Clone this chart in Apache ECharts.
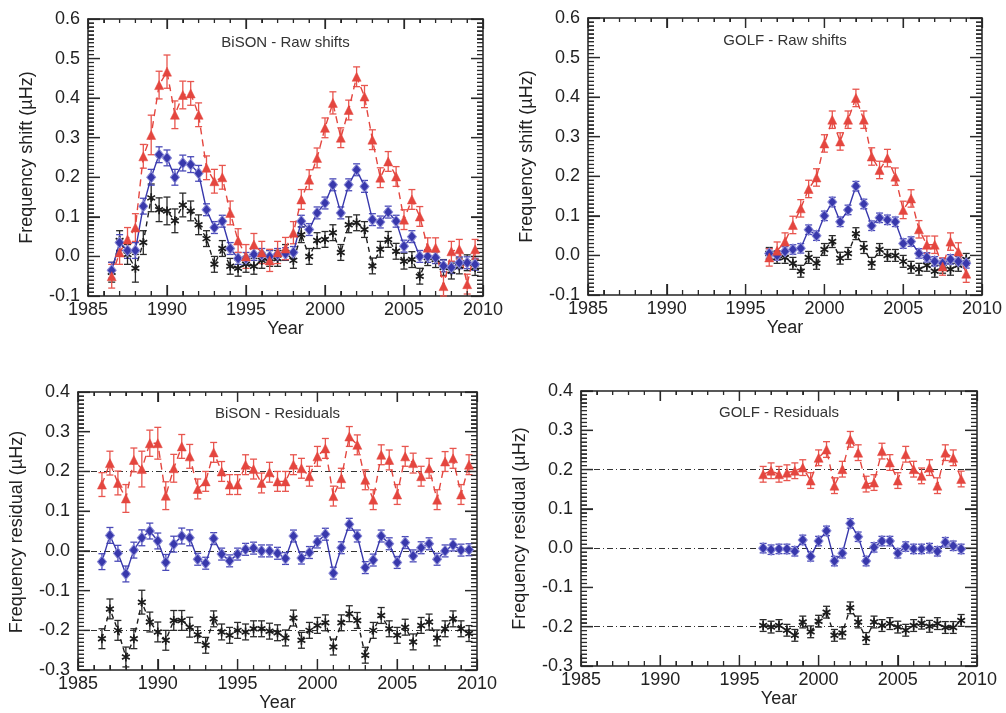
<!DOCTYPE html>
<html><head><meta charset="utf-8">
<script src="https://cdn.jsdelivr.net/npm/echarts@6/dist/echarts.min.js"></script>
<style>html,body{margin:0;padding:0;background:#fff}#c{width:1006px;height:713px}</style>
</head><body><div id="c"></div>
<script>
const bisonYears = [1986.5,1987,1987.5,1988,1988.5,1989,1989.5,1990,1990.5,1991,1991.5,1992,1992.5,1993,1993.5,1994,1994.5,1995,1995.5,1996,1996.5,1997,1997.5,1998,1998.5,1999,1999.5,2000,2000.5,2001,2001.5,2002,2002.5,2003,2003.5,2004,2004.5,2005,2005.5,2006,2006.5,2007,2007.5,2008,2008.5,2009,2009.5];
const golfYears = [1996.5,1997,1997.5,1998,1998.5,1999,1999.5,2000,2000.5,2001,2001.5,2002,2002.5,2003,2003.5,2004,2004.5,2005,2005.5,2006,2006.5,2007,2007.5,2008,2008.5,2009];
const bisonRawRed = [-0.05,0.01,0.043,0.073,0.253,0.307,0.433,0.467,0.358,0.408,0.412,0.358,0.224,0.19,0.2,0.11,0.04,0.0,0.03,0.01,-0.01,0.01,0.02,0.06,0.144,0.194,0.249,0.325,0.388,0.3,0.37,0.454,0.404,0.295,0.199,0.24,0.202,0.093,0.144,0.101,0.022,0.022,-0.075,0.013,0.018,-0.07,0.018];
const bisonRawRedErr = [0.03,0.03,0.03,0.035,0.03,0.05,0.035,0.042,0.035,0.035,0.03,0.03,0.03,0.03,0.03,0.03,0.03,0.03,0.028,0.028,0.028,0.028,0.028,0.028,0.025,0.025,0.025,0.025,0.028,0.025,0.025,0.025,0.028,0.025,0.025,0.025,0.025,0.025,0.025,0.025,0.025,0.025,0.025,0.025,0.025,0.025,0.025];
const bisonRawBlue = [-0.035,0.035,0.015,0.015,0.127,0.2,0.257,0.249,0.2,0.236,0.232,0.21,0.118,0.073,0.089,0.02,-0.005,-0.005,0.005,0.005,0.0,0.005,0.007,0.01,0.089,0.068,0.11,0.135,0.181,0.11,0.181,0.219,0.177,0.093,0.087,0.112,0.089,0.026,0.05,0.0,0.0,-0.003,-0.024,-0.028,-0.016,-0.016,-0.02];
const bisonRawBlueErr = [0.02,0.02,0.02,0.02,0.02,0.02,0.02,0.02,0.02,0.02,0.02,0.02,0.015,0.015,0.015,0.015,0.015,0.015,0.015,0.015,0.015,0.015,0.015,0.015,0.015,0.015,0.015,0.015,0.015,0.015,0.015,0.015,0.015,0.015,0.015,0.015,0.015,0.015,0.015,0.015,0.015,0.015,0.015,0.015,0.015,0.015,0.015];
const bisonRawBlack = [-0.04,0.04,0.005,-0.03,0.035,0.148,0.118,0.115,0.09,0.13,0.115,0.08,0.045,-0.02,0.02,-0.025,-0.03,-0.02,-0.025,-0.01,-0.005,-0.005,0.01,-0.01,0.055,0.0,0.04,0.043,0.06,0.01,0.08,0.085,0.068,-0.024,0.018,0.043,0.013,-0.012,-0.008,-0.05,-0.003,-0.008,-0.028,-0.037,-0.024,-0.016,-0.028];
const bisonRawBlackErr = [0.025,0.025,0.025,0.035,0.03,0.035,0.03,0.035,0.03,0.03,0.025,0.025,0.02,0.02,0.02,0.02,0.02,0.02,0.02,0.02,0.02,0.02,0.02,0.02,0.02,0.02,0.02,0.02,0.02,0.02,0.02,0.02,0.02,0.02,0.02,0.02,0.02,0.02,0.02,0.02,0.02,0.02,0.02,0.02,0.02,0.02,0.02];
const golfRawRed = [-0.005,0.012,0.035,0.077,0.119,0.168,0.197,0.283,0.343,0.288,0.343,0.398,0.343,0.25,0.216,0.246,0.199,0.115,0.144,0.066,0.027,0.027,-0.028,0.035,0.01,-0.046];
const golfRawRedErr = [0.022,0.022,0.022,0.022,0.022,0.022,0.022,0.022,0.022,0.022,0.022,0.022,0.022,0.022,0.022,0.022,0.022,0.022,0.022,0.022,0.022,0.022,0.022,0.022,0.022,0.022];
const golfRawBlue = [0.005,0.0,0.01,0.015,0.018,0.065,0.05,0.1,0.135,0.085,0.115,0.175,0.13,0.075,0.095,0.09,0.085,0.03,0.035,0.005,-0.005,-0.015,-0.02,-0.01,-0.015,-0.02];
const golfRawBlueErr = [0.012,0.012,0.012,0.012,0.012,0.012,0.012,0.012,0.012,0.012,0.012,0.012,0.012,0.012,0.012,0.012,0.012,0.012,0.012,0.012,0.012,0.012,0.012,0.012,0.012,0.012];
const golfRawBlack = [0.005,-0.005,-0.005,-0.02,-0.04,-0.005,-0.02,0.015,0.035,-0.007,0.005,0.055,0.02,-0.02,0.015,0.0,0.0,-0.015,-0.03,-0.035,-0.025,-0.04,-0.03,-0.035,-0.025,-0.01];
const golfRawBlackErr = [0.015,0.015,0.015,0.015,0.015,0.015,0.015,0.015,0.015,0.015,0.015,0.015,0.015,0.015,0.015,0.015,0.015,0.015,0.015,0.015,0.015,0.015,0.015,0.015,0.015,0.015];
const bisonResRed = [0.167,0.221,0.171,0.132,0.229,0.206,0.271,0.271,0.139,0.208,0.263,0.238,0.156,0.175,0.248,0.2,0.167,0.167,0.217,0.206,0.171,0.198,0.175,0.175,0.217,0.208,0.188,0.238,0.258,0.138,0.183,0.288,0.267,0.179,0.129,0.242,0.229,0.142,0.238,0.221,0.188,0.208,0.129,0.225,0.233,0.142,0.217];
const bisonResRedErr = [0.03,0.03,0.03,0.035,0.03,0.045,0.033,0.04,0.035,0.035,0.03,0.03,0.025,0.025,0.025,0.025,0.025,0.025,0.025,0.025,0.025,0.025,0.025,0.025,0.025,0.025,0.025,0.025,0.025,0.025,0.025,0.025,0.025,0.025,0.025,0.025,0.025,0.025,0.025,0.025,0.025,0.025,0.025,0.025,0.025,0.025,0.025];
const bisonResBlue = [-0.027,0.039,-0.006,-0.058,0.002,0.033,0.05,0.025,-0.029,0.017,0.0375,0.033,-0.021,-0.031,0.031,-0.008,-0.025,-0.008,0.004,0.007,0.0,0.0,-0.006,-0.019,0.0375,-0.018,-0.004,0.0225,0.042,-0.056,0.008,0.067,0.0375,-0.042,-0.023,0.0375,0.018,-0.029,0.021,-0.0125,0.008,0.018,-0.021,0.0,0.015,0.002,0.003];
const bisonResBlueErr = [0.02,0.02,0.02,0.02,0.02,0.02,0.02,0.02,0.02,0.02,0.02,0.02,0.015,0.015,0.015,0.015,0.015,0.015,0.015,0.015,0.015,0.015,0.015,0.015,0.015,0.015,0.015,0.015,0.015,0.015,0.015,0.015,0.015,0.015,0.015,0.015,0.015,0.015,0.015,0.015,0.015,0.015,0.015,0.015,0.015,0.015,0.015];
const bisonResBlack = [-0.221,-0.146,-0.2,-0.267,-0.221,-0.129,-0.179,-0.204,-0.225,-0.175,-0.175,-0.192,-0.211,-0.2375,-0.171,-0.204,-0.2125,-0.2,-0.204,-0.196,-0.196,-0.202,-0.206,-0.219,-0.169,-0.225,-0.2,-0.1875,-0.181,-0.242,-0.181,-0.158,-0.175,-0.2625,-0.2,-0.1625,-0.196,-0.2125,-0.192,-0.229,-0.1875,-0.179,-0.219,-0.196,-0.171,-0.196,-0.208];
const bisonResBlackErr = [0.025,0.025,0.025,0.025,0.025,0.03,0.025,0.025,0.025,0.025,0.025,0.025,0.02,0.02,0.02,0.02,0.02,0.02,0.02,0.02,0.02,0.02,0.02,0.02,0.02,0.02,0.02,0.02,0.02,0.02,0.02,0.02,0.02,0.02,0.02,0.02,0.02,0.02,0.02,0.02,0.02,0.02,0.02,0.02,0.02,0.02,0.02];
const golfResRed = [0.188,0.197,0.188,0.192,0.197,0.205,0.172,0.23,0.251,0.159,0.201,0.277,0.243,0.163,0.167,0.247,0.218,0.172,0.239,0.201,0.184,0.205,0.159,0.243,0.23,0.176];
const golfResRedErr = [0.02,0.02,0.02,0.02,0.02,0.02,0.02,0.02,0.02,0.02,0.02,0.02,0.02,0.02,0.02,0.02,0.02,0.02,0.02,0.02,0.02,0.02,0.02,0.02,0.02,0.02];
const golfResBlue = [0.0,-0.004,-0.002,-0.002,-0.008,0.021,-0.021,0.018,0.044,-0.033,-0.013,0.063,0.029,-0.033,0.002,0.018,0.018,-0.013,0.004,-0.002,-0.002,0.0,-0.008,0.015,0.006,-0.002];
const golfResBlueErr = [0.012,0.012,0.012,0.012,0.012,0.012,0.012,0.012,0.012,0.012,0.012,0.012,0.012,0.012,0.012,0.012,0.012,0.012,0.012,0.012,0.012,0.012,0.012,0.012,0.012,0.012];
const golfResBlack = [-0.197,-0.201,-0.197,-0.209,-0.222,-0.188,-0.213,-0.186,-0.163,-0.222,-0.216,-0.152,-0.188,-0.23,-0.188,-0.197,-0.192,-0.201,-0.209,-0.197,-0.191,-0.199,-0.192,-0.202,-0.202,-0.184];
const golfResBlackErr = [0.015,0.015,0.015,0.015,0.015,0.015,0.015,0.015,0.015,0.015,0.015,0.015,0.015,0.015,0.015,0.015,0.015,0.015,0.015,0.015,0.015,0.015,0.015,0.015,0.015,0.015];

const refLevels = [0.2, 0.0, -0.2];
const panelTitles = ['BiSON - Raw shifts', 'GOLF - Raw shifts', 'BiSON - Residuals', 'GOLF - Residuals'];
const yNames = ['Frequency shift (\u00b5Hz)', 'Frequency shift (\u00b5Hz)', 'Frequency residual (\u00b5Hz)', 'Frequency residual (\u00b5Hz)'];
const xName = 'Year';
const xMin = 1985, xMax = 2010, xMajorStep = 5, xMinorStep = 1;
const yMajorStep = 0.1, yMinorPerMajor = 10;

const FONT = '"Liberation Sans", Arial, Helvetica, sans-serif';
const INK = '#222';
const RED = '#e4463f', BLUE = '#3838ac', BLACK = '#1c1c1c';
const grids = [
  {left: 88, top: 19, width: 395, height: 277},
  {left: 588, top: 18, width: 394, height: 277},
  {left: 78, top: 392, width: 399, height: 280},
  {left: 581, top: 391, width: 396, height: 275}
];
const yRanges = [[-0.1, 0.6], [-0.1, 0.6], [-0.3, 0.4], [-0.3, 0.4]];

const xAxes = [], yAxes = [];
grids.forEach((g, gi) => {
  ['bottom', 'top'].forEach(pos => {
    xAxes.push({
      type: 'value', gridIndex: gi, position: pos, min: xMin, max: xMax, interval: xMajorStep,
      axisLine: {show: true, onZero: false, lineStyle: {color: INK, width: 1.5}},
      axisTick: {show: true, inside: false, length: pos === 'bottom' ? -11 : -10, lineStyle: {color: INK, width: 1.2}},
      minorTick: {show: true, splitNumber: 5, length: pos === 'bottom' ? -5 : -4, lineStyle: {color: INK, width: 1}},
      splitLine: {show: false}, minorSplitLine: {show: false},
      axisLabel: {show: pos === 'bottom', margin: 5, fontSize: 18, color: INK, fontFamily: FONT,
                  formatter: v => String(v), showMinLabel: true, showMaxLabel: true, hideOverlap: false},
      name: pos === 'bottom' ? xName : '', nameLocation: 'middle', nameGap: 22,
      nameTextStyle: {fontSize: 18, color: INK, fontFamily: FONT}
    });
  });
  ['left', 'right'].forEach(pos => {
    yAxes.push({
      type: 'value', gridIndex: gi, position: pos, min: yRanges[gi][0], max: yRanges[gi][1], interval: yMajorStep,
      axisLine: {show: true, onZero: false, lineStyle: {color: INK, width: 1.5}},
      axisTick: {show: true, inside: false, length: -12, lineStyle: {color: INK, width: 1.2}},
      minorTick: {show: true, splitNumber: 10, length: -6, lineStyle: {color: INK, width: 0.9}},
      splitLine: {show: false}, minorSplitLine: {show: false},
      axisLabel: {show: pos === 'left', margin: 8, fontSize: 18, color: INK, fontFamily: FONT,
                  formatter: v => v.toFixed(1), showMinLabel: true, showMaxLabel: true, hideOverlap: false}
    });
  });
});

const ASTERISK = 'path://M5 0 L5 10 M0.67 2.5 L9.33 7.5 M0.67 7.5 L9.33 2.5';
const kinds = {
  red:   {color: RED, symbol: 'triangle', size: 9, line: [7, 5], item: {color: RED, borderColor: RED, borderWidth: 0.5}, errColor: '#e8554e'},
  blue:  {color: BLUE, symbol: 'diamond', size: [9, 11], line: 'solid', item: {color: BLUE, borderColor: '#8a8ad6', borderWidth: 1}, errColor: '#4a4ab8'},
  black: {color: BLACK, symbol: ASTERISK, size: 9, line: [5, 4], item: {color: BLACK, borderColor: BLACK, borderWidth: 1.7}, errColor: '#2a2a2a'}
};

const series = [];
function addSeries(gi, xs, ys, es, kind, withRef) {
  const k = kinds[kind];
  const ax = gi * 2;
  series.push({
    type: 'custom', xAxisIndex: ax, yAxisIndex: ax, z: 2, silent: true,
    data: xs.map((x, i) => [x, ys[i], es[i]]),
    encode: {x: 0, y: 1},
    renderItem: (params, api) => {
      const x = api.value(0), y = api.value(1), e = api.value(2);
      const t = api.coord([x, y + e]), b = api.coord([x, y - e]);
      const w = 3.5, st = {stroke: k.errColor, lineWidth: 1.3};
      return {type: 'group', children: [
        {type: 'line', shape: {x1: t[0], y1: t[1], x2: b[0], y2: b[1]}, style: st},
        {type: 'line', shape: {x1: t[0] - w, y1: t[1], x2: t[0] + w, y2: t[1]}, style: st},
        {type: 'line', shape: {x1: b[0] - w, y1: b[1], x2: b[0] + w, y2: b[1]}, style: st}
      ]};
    }
  });
  const s = {
    type: 'line', xAxisIndex: ax, yAxisIndex: ax, z: 3,
    data: xs.map((x, i) => [x, ys[i]]),
    symbol: k.symbol, symbolSize: k.size, symbolKeepAspect: true, showAllSymbol: true,
    lineStyle: {color: k.color, width: 1.4, type: k.line},
    itemStyle: k.item
  };
  if (withRef) {
    s.markLine = {
      silent: true, symbol: 'none', label: {show: false}, z: 1,
      lineStyle: {color: '#333', width: 1, type: [6, 3, 1, 3]},
      data: refLevels.map(v => ({yAxis: v}))
    };
  }
  series.push(s);
}

addSeries(0, bisonYears, bisonRawBlack, bisonRawBlackErr, 'black');
addSeries(0, bisonYears, bisonRawBlue, bisonRawBlueErr, 'blue');
addSeries(0, bisonYears, bisonRawRed, bisonRawRedErr, 'red');
addSeries(1, golfYears, golfRawBlack, golfRawBlackErr, 'black');
addSeries(1, golfYears, golfRawBlue, golfRawBlueErr, 'blue');
addSeries(1, golfYears, golfRawRed, golfRawRedErr, 'red');
addSeries(2, bisonYears, bisonResBlack, bisonResBlackErr, 'black', true);
addSeries(2, bisonYears, bisonResBlue, bisonResBlueErr, 'blue');
addSeries(2, bisonYears, bisonResRed, bisonResRedErr, 'red');
addSeries(3, golfYears, golfResBlack, golfResBlackErr, 'black', true);
addSeries(3, golfYears, golfResBlue, golfResBlueErr, 'blue');
addSeries(3, golfYears, golfResRed, golfResRedErr, 'red');

// Backup inward ticks, drawn like the error bars through each grid's own axes
grids.forEach((g, gi) => {
  const ax = gi * 2;
  const [y0, y1] = yRanges[gi];
  const tickData = [];
  const nX = Math.round((xMax - xMin) / xMinorStep);
  for (let k = 0; k <= nX; k++) {
    tickData.push([xMin + k * xMinorStep, y0, 0, (k * xMinorStep) % xMajorStep === 0 ? 1 : 0]);
  }
  const nY = Math.round((y1 - y0) * yMinorPerMajor / yMajorStep);
  for (let k = 0; k <= nY; k++) {
    tickData.push([xMin, y0 + k * yMajorStep / yMinorPerMajor, 1, k % yMinorPerMajor === 0 ? 1 : 0]);
  }
  series.push({
    type: 'custom', xAxisIndex: ax, yAxisIndex: ax, z: 2, silent: true,
    data: tickData, encode: {x: 0, y: 1},
    renderItem: (params, api) => {
      const lb = api.coord([xMin, y0]), rt = api.coord([xMax, y1]);
      const left = lb[0], bottom = lb[1], right = rt[0], top = rt[1];
      const p = api.coord([api.value(0), api.value(1)]);
      const isY = api.value(2) === 1, major = api.value(3) === 1;
      const st = {stroke: '#2a2a2a', lineWidth: 1.3};
      if (!isY) {
        const Lb = major ? 11 : 5, Lt = major ? 10 : 4;
        return {type: 'group', children: [
          {type: 'line', shape: {x1: p[0], y1: bottom, x2: p[0], y2: bottom - Lb}, style: st},
          {type: 'line', shape: {x1: p[0], y1: top, x2: p[0], y2: top + Lt}, style: st}
        ]};
      }
      const L = major ? 12 : 6;
      return {type: 'group', children: [
        {type: 'line', shape: {x1: left, y1: p[1], x2: left + L, y2: p[1]}, style: st},
        {type: 'line', shape: {x1: right, y1: p[1], x2: right - L, y2: p[1]}, style: st}
      ]};
    }
  });
});

const titleOffsets = [24, 23, 22, 22];
const graphics = [];
grids.forEach((g, gi) => {
  graphics.push({
    type: 'text', x: g.left + g.width / 2, y: g.top + titleOffsets[gi], z: 60,
    style: {text: panelTitles[gi], fill: '#333', font: '15px ' + FONT, textAlign: 'center', textVerticalAlign: 'middle'}
  });
  graphics.push({
    type: 'text', x: g.left - 61, y: g.top + g.height / 2, rotation: Math.PI / 2, z: 60,
    style: {text: yNames[gi], fill: INK, font: '18px ' + FONT, textAlign: 'center', textVerticalAlign: 'middle'}
  });
});

const chart = echarts.init(document.getElementById('c'), null, {renderer: 'canvas'});
chart.setOption({
  backgroundColor: '#fff',
  animation: false,
  grid: grids.map(g => Object.assign({containLabel: false}, g)),
  xAxis: xAxes,
  yAxis: yAxes,
  series: series,
  graphic: graphics
});
</script>
</body></html>
